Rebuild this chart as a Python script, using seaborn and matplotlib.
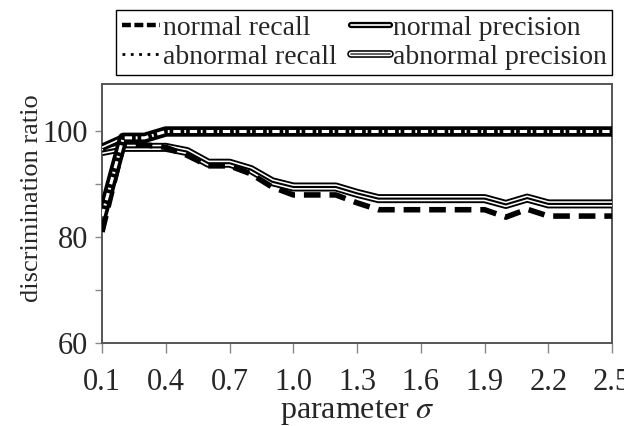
import matplotlib
matplotlib.use("Agg")
import matplotlib.pyplot as plt
import seaborn as sns
from matplotlib.lines import Line2D

# parameter sigma and the four discrimination ratios (%)
sigma = [0.1, 0.2, 0.3, 0.4, 0.5, 0.6, 0.7, 0.8, 0.9, 1.0, 1.1, 1.2, 1.3,
         1.4, 1.5, 1.6, 1.7, 1.8, 1.9, 2.0, 2.1, 2.2, 2.3, 2.4, 2.5]
normal_recall = [81.0, 97.5, 97.5, 97.0, 95.5, 93.5, 93.5, 92.0, 89.5, 88.0,
                 88.0, 88.0, 86.5, 85.2, 85.2, 85.2, 85.2, 85.2, 85.2, 83.8,
                 85.3, 84.0, 84.0, 84.0, 84.0]
abnormal_recall = [84.0, 98.8, 98.8, 100.0, 100.0, 100.0, 100.0, 100.0, 100.0,
                   100.0, 100.0, 100.0, 100.0, 100.0, 100.0, 100.0, 100.0,
                   100.0, 100.0, 100.0, 100.0, 100.0, 100.0, 100.0, 100.0]
normal_precision = [97.0, 98.8, 98.8, 100.0, 100.0, 100.0, 100.0, 100.0, 100.0,
                    100.0, 100.0, 100.0, 100.0, 100.0, 100.0, 100.0, 100.0,
                    100.0, 100.0, 100.0, 100.0, 100.0, 100.0, 100.0, 100.0]
abnormal_precision = [96.2, 97.0, 97.0, 97.0, 96.2, 94.0, 94.0, 92.8, 90.5, 89.5,
                      89.5, 89.5, 88.3, 87.3, 87.3, 87.3, 87.3, 87.3, 87.3, 86.2,
                      87.4, 86.3, 86.3, 86.3, 86.3]

x_ticks = [0.1, 0.4, 0.7, 1.0, 1.3, 1.6, 1.9, 2.2, 2.5]
x_ticklabels = ["0.1", "0.4", "0.7", "1.0", "1.3", "1.6", "1.9", "2.2", "2.5"]
y_ticks = [60, 70, 80, 90, 100]
y_ticklabels = ["60", "", "80", "", "100"]
legend_labels = ["normal recall", "abnormal recall",
                 "normal precision", "abnormal precision"]

sns.set_theme(style="white")
plt.rcParams["font.family"] = ["Liberation Serif", "DejaVu Serif"]
plt.rcParams["mathtext.fontset"] = "stix"

fig = plt.figure(figsize=(6.24, 4.26), dpi=100)
ax = fig.add_axes([0.1635, 0.195, 0.8175, 0.608])


def layer(values, color, lw, ls="-", z=2):
    sns.lineplot(x=sigma, y=values, ax=ax, color=color, linewidth=lw,
                 linestyle=ls, zorder=z, errorbar=None, legend=False,
                 solid_capstyle="butt", dash_capstyle="butt",
                 solid_joinstyle="round")


# abnormal precision: triple line
layer(abnormal_precision, "black", 6.5, z=3)
layer(abnormal_precision, "white", 3.8, z=3.1)
layer(abnormal_precision, "black", 1.5, z=3.2)
# normal recall: dashed
layer(normal_recall, "black", 4.0, ls=(0, (3.0, 1.6)), z=4)
# normal precision: double line
layer(normal_precision, "black", 5.5, z=5)
layer(normal_precision, "white", 1.2, z=5.1)
# abnormal recall: heavy dotted band
layer(abnormal_recall, "black", 7.5, z=6)
layer(abnormal_recall, "white", 2.2, ls=(0, (2.4, 1.2, 0.6, 1.2)), z=6.1)

ax.set_xlim(0.1, 2.5)
ax.set_ylim(60, 109)
ax.set_xticks(x_ticks)
ax.set_xticklabels(x_ticklabels)
ax.set_yticks(y_ticks)
ax.set_yticklabels(y_ticklabels)
ax.tick_params(axis="x", direction="out", length=7, width=1, color="#888888",
               pad=11, labelsize=22, bottom=True)
ax.tick_params(axis="y", direction="out", length=5, width=1, color="#888888",
               pad=5, labelsize=22, left=True)
for s in ax.spines.values():
    s.set_color("#555555")
    s.set_linewidth(1.4)

ax.set_xlabel("parameter $\\sigma$", fontsize=23, labelpad=1)
ax.set_ylabel("discrimination ratio", fontsize=19)
ax.yaxis.set_label_coords(-0.116, 0.56)

h_nr = Line2D([], [], color="black", lw=3.2, linestyle=(0, (2.0, 0.8)))
h_ar = Line2D([], [], color="black", lw=2, linestyle=(0, (1, 2)))
h_np = (Line2D([], [], color="black", lw=4.5),
        Line2D([], [], color="white", lw=1.2))
h_ap = (Line2D([], [], color="black", lw=5.5),
        Line2D([], [], color="white", lw=3.2),
        Line2D([], [], color="#555555", lw=1.3))

leg = fig.legend(handles=[h_nr, h_ar, h_np, h_ap], labels=legend_labels,
                 ncol=2, loc="upper right",
                 bbox_to_anchor=(612 / 624, 1 - 10 / 426),
                 frameon=True, fancybox=False, edgecolor="black",
                 framealpha=1, fontsize=20, handlelength=1.4,
                 handletextpad=0.1, columnspacing=0.5, borderpad=0.2,
                 labelspacing=0.12, borderaxespad=0)
leg.get_frame().set_linewidth(1.0)

fig.savefig("out.png", dpi=100, facecolor="white")
